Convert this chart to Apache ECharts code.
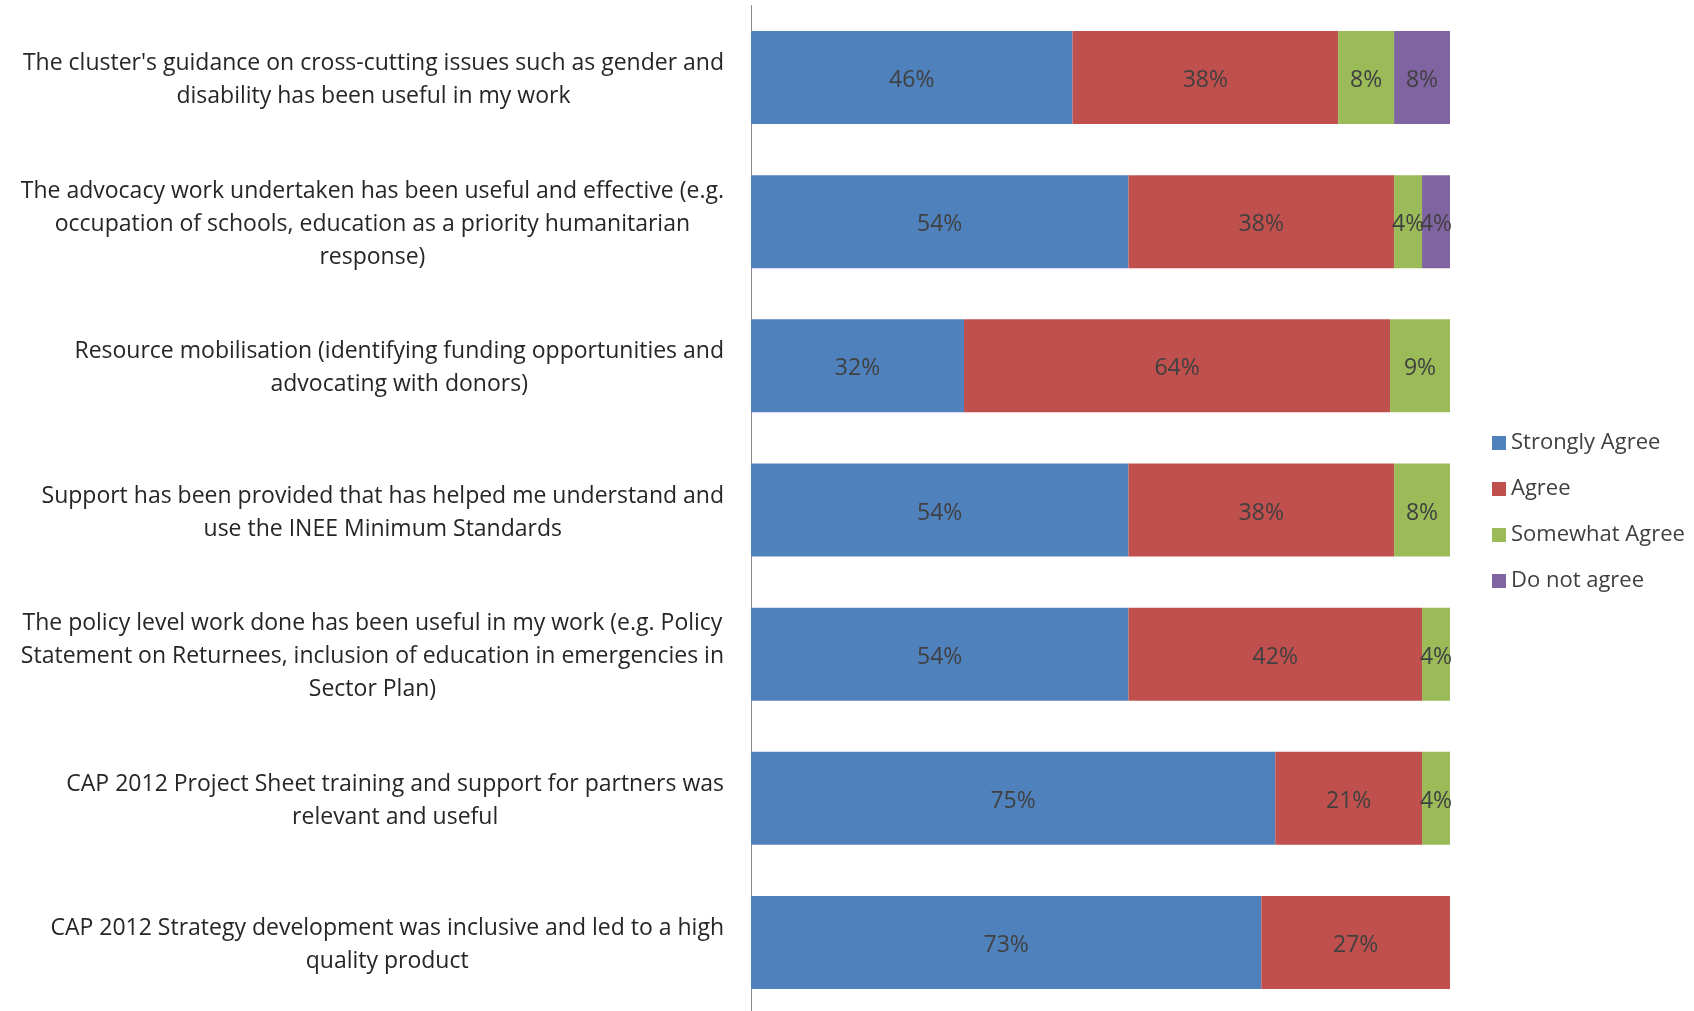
<!DOCTYPE html>
<html>
<head>
<meta charset="utf-8">
<script src="https://cdn.jsdelivr.net/npm/echarts@6/dist/echarts.min.js"></script>
<style>
html,body{margin:0;padding:0;background:#fff;}
#chart{width:1694px;height:1011px;}
</style>
</head>
<body>
<div id="chart"></div>
<script>
const categories = [
  "The cluster's guidance on cross-cutting issues such as gender and\ndisability has been useful in my work",
  "The advocacy work undertaken has been useful and effective (e.g.\noccupation of schools, education as a priority humanitarian\nresponse)",
  "Resource mobilisation (identifying funding opportunities and\nadvocating with donors)",
  "Support has been provided that has helped me understand and\nuse the INEE Minimum Standards",
  "The policy level work done has been useful in my work (e.g. Policy\nStatement on Returnees, inclusion of education in emergencies in\nSector Plan)",
  "CAP 2012 Project Sheet training and support for partners was\nrelevant and useful",
  "CAP 2012 Strategy development was inclusive and led to a high\nquality product"
];
const seriesNames = ["Strongly Agree", "Agree", "Somewhat Agree", "Do not agree"];
const stronglyAgree = [46, 54, 32, 54, 54, 75, 73];
const agree         = [38, 38, 64, 38, 42, 21, 27];
const somewhatAgree = [8, 4, 9, 8, 4, 4, null];
const doNotAgree    = [8, 4, null, null, null, null, null];
const colors = ["#4F81BD", "#C0504D", "#9BBB59", "#8064A2"];

const all = [stronglyAgree, agree, somewhatAgree, doNotAgree];
const totals = categories.map((c, i) => all.reduce((s, arr) => s + (arr[i] || 0), 0));

const FONT = "Open Sans";
const series = all.map((arr, si) => ({
  name: seriesNames[si],
  type: 'bar',
  stack: 'total',
  barCategoryGap: '35.5%',
  itemStyle: { color: colors[si] },
  label: {
    show: true,
    position: 'inside',
    offset: [0, 3],
    color: '#404040',
    fontFamily: FONT,
    fontSize: 23,
    formatter: p => (p.data && p.data.raw != null) ? p.data.raw + '%' : ''
  },
  data: arr.map((v, i) => v == null ? null : { value: v / totals[i] * 100, raw: v })
}));

const chart = echarts.init(document.getElementById('chart'));
chart.setOption({
  animation: false,
  backgroundColor: '#fff',
  grid: { left: 751, width: 699, top: 5.5, height: 1009, containLabel: false, outerBoundsMode: 'none' },
  legend: {
    orient: 'vertical',
    left: 1487,
    top: 427,
    itemWidth: 14,
    itemHeight: 14,
    itemGap: 24,
    icon: 'rect',
    textStyle: { fontFamily: FONT, fontSize: 22, color: '#404040', lineHeight: 22 },
    data: seriesNames
  },
  xAxis: { type: 'value', min: 0, max: 100, show: false },
  yAxis: {
    type: 'category',
    inverse: true,
    data: categories,
    axisLine: { show: true, lineStyle: { color: '#8c8c8c', width: 1 } },
    axisTick: { show: false },
    axisLabel: {
      margin: 27,
      align: 'right',
      padding: [5, 0, 0, 0],
      fontFamily: FONT,
      fontSize: 23,
      color: '#262626',
      lineHeight: 33,
      formatter: v => v.split('\n').map(l => '{c|' + l + '}').join('\n'),
      rich: { c: { align: 'center', fontFamily: FONT, fontSize: 23, color: '#262626', lineHeight: 33 } }
    }
  },
  series: series
});
</script>
</body>
</html>
